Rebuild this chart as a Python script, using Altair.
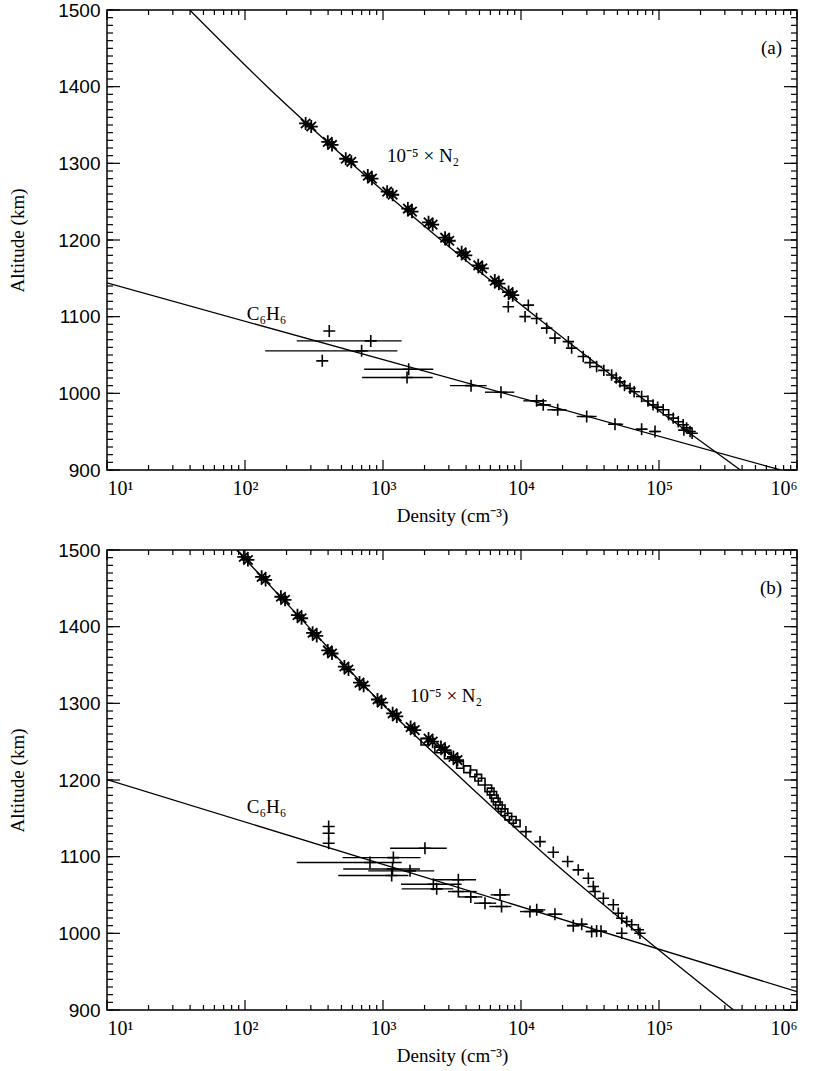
import altair as alt
import pandas as pd

# ---------------- Panel (a) ----------------
a_n2_line_alt = [1500, 1400, 1300, 1200, 1100, 1000, 900]
a_n2_line_den = [39.8, 145, 589, 2630, 12880, 67600, 389000]
a_c6_line_alt = [1144, 900]
a_c6_line_den = [10, 760000]

a_ast_alt = [1352, 1348, 1328, 1324, 1306, 1302, 1284, 1280, 1263, 1259, 1241, 1237,
             1223, 1220, 1203, 1199, 1184, 1180, 1167, 1163, 1147, 1143, 1132, 1128]
a_ast_den = [275, 302, 398, 427, 537, 589, 776, 832, 1072, 1175, 1514, 1622,
             2138, 2291, 2818, 3020, 3715, 3981, 4898, 5248, 6457, 6918, 8128, 8710]

a_plus_alt = [1113, 1115, 1100, 1097.6, 1085, 1072, 1067.5, 1059, 1048, 1040, 1035, 1030,
              1024, 1020, 1015, 1010, 1006.5, 1002, 995.8, 990, 985, 982, 978.6, 972,
              967.7, 963, 959, 955, 952, 950.3, 948]
a_plus_den = [8091, 11300, 10700, 12970, 15350, 17620, 22030, 23280, 28250, 31620, 35320, 39810,
              45390, 48980, 52120, 56230, 61660, 66070, 74820, 83180, 90570, 97720, 107200, 117500,
              126800, 138000, 149600, 158500, 151400, 167900, 173800]

a_c6_alt = [1081.4, 1068.4, 1055.4, 1042.4, 1031.4, 1020.6, 1010, 1001.5, 990.2, 985,
            978.5, 969.8, 959.7, 953.2, 950.2]
a_c6_den = [408, 815, 700, 363, 1535, 1493, 4345, 7161, 12970, 14490,
            18450, 29920, 47970, 74820, 93540]
a_c6_lo = [408, 237, 140, 363, 731, 705, 3062, 5483, 10400, 13000,
           15500, 25350, 42700, 68000, 86000]
a_c6_hi = [408, 1365, 1271, 363, 2312, 2291, 5636, 8933, 15350, 16500,
           21400, 35320, 55000, 82000, 100000]

# ---------------- Panel (b) ----------------
b_n2_line_alt = [1500, 1400, 1300, 1200, 1100, 1000, 900]
b_n2_line_den = [87, 288, 977, 3802, 15490, 70790, 346700]
b_c6_line_alt = [1200.6, 924]
b_c6_line_den = [10, 1000000]

b_ast_alt = [1491, 1487, 1465, 1461, 1439, 1435, 1415, 1411, 1392, 1388, 1369, 1365, 1348, 1344,
             1327, 1323, 1305, 1301, 1287, 1283, 1269, 1265, 1254, 1250, 1243, 1239, 1230, 1226]
b_ast_den = [98, 105, 132, 141, 182, 195, 240, 257, 309, 331, 398, 427, 525, 562,
             676, 724, 912, 977, 1175, 1259, 1585, 1698, 2138, 2291, 2630, 2818, 3236, 3467]

b_sq_alt = [1250, 1240, 1232, 1219.7, 1214, 1208.7, 1203, 1197.9, 1189.2, 1185, 1180.6, 1176,
            1171.8, 1167, 1163.1, 1158, 1152.3, 1148, 1143.5]
b_sq_den = [1995, 2512, 2951, 3614, 4074, 4519, 4898, 5188, 5794, 6026, 6295, 6457,
            6668, 6918, 7244, 7586, 8091, 8710, 9311]

b_plus_alt = [1132.7, 1119.6, 1105.7, 1093.6, 1082.8, 1071.8, 1061, 1054.5, 1045.8, 1037.2,
              1026.2, 1019.7, 1015.4, 1011.1, 1000.1, 1004.6, 1000.1]
b_plus_den = [10860, 13740, 17140, 21780, 26000, 30760, 33420, 34360, 39540, 46670,
              50700, 53700, 58340, 63390, 53700, 70790, 72780]

b_c6_alt = [1139.3, 1130.5, 1117.5, 1111, 1098.8, 1092.3, 1084, 1081.5, 1075.4, 1064,
            1069.8, 1058, 1054.5, 1047.5, 1039.3, 1050.2, 1035, 1028.4, 1030.6, 1024.9,
            1010, 1011.9, 1002.3, 1003.2, 1002.8]
b_c6_den = [404, 404, 404, 2014, 1189, 805, 1172, 1570, 1156, 2317,
            3516, 2449, 3516, 4325, 5483, 7047, 7228, 11610, 13000, 17620,
            23930, 27540, 32510, 35320, 38000]
b_c6_lo = [404, 404, 404, 1125, 509, 237, 515, 782, 474, 1349,
           2317, 1365, 2958, 3548, 4571, 6026, 5888, 9840, 11500, 15500,
           21500, 25000, 29500, 32000, 35000]
b_c6_hi = [404, 404, 404, 2897, 1871, 1365, 1854, 2350, 1528, 3715,
           4721, 3228, 4775, 5248, 6607, 8318, 8511, 14520, 15000, 19950,
           26500, 30000, 35500, 38500, 41000]

# ---------------- Axis ticks & labels ----------------
x_major = [10, 100, 1000, 10000, 100000, 1000000]
x_minor = [m * d for d in [10, 100, 1000, 10000, 100000] for m in range(2, 10)]
y_major = [900, 1000, 1100, 1200, 1300, 1400, 1500]
y_minor = list(range(900, 1501, 10))

W, H = 690, 460
PLUS = "M-1,0L1,0M0,-1L0,1"
AST = "M-1,0L1,0M0,-1L0,1M-0.72,-0.72L0.72,0.72M-0.72,0.72L0.72,-0.72"
SERIF = "Liberation Serif"
SANS = "Liberation Sans Narrow, Liberation Sans"

xscale = alt.Scale(type="log", domain=[10, 1000000], nice=False)
yscale = alt.Scale(domain=[900, 1500], nice=False, zero=False)
xaxis = alt.Axis(values=x_major, ticks=False, domain=False, grid=False,
                 labelExpr="'10' + ['\u2070','\u00b9','\u00b2','\u00b3','\u2074','\u2075','\u2076'][round(log(datum.value)/LN10)]",
                 labelFont=SERIF, labelFontSize=20, labelPadding=8, labelColor="black",
                 title="Density (cm\u207b\u00b3)", titleFont=SERIF, titleFontSize=19,
                 titleFontWeight="normal", titlePadding=8, titleColor="black")
yaxis = alt.Axis(values=y_major, ticks=False, domain=False, grid=False, format="d",
                 labelFont=SANS, labelFontSize=19, labelPadding=7, labelColor="black",
                 title="Altitude (km)", titleFont=SERIF, titleFontSize=19,
                 titleFontWeight="normal", titlePadding=30, titleColor="black")


def X(field="den"):
    return alt.X(f"{field}:Q", scale=xscale, axis=xaxis)


def Y(field="alt"):
    return alt.Y(f"{field}:Q", scale=yscale, axis=yaxis)


def panel(tag, n2l, c6l, ast, plus, sq, c6, n2_label_pos, c6_label_pos):
    layers = []
    # frame ticks (inward)
    dxM = pd.DataFrame({"den": x_major})
    dxm = pd.DataFrame({"den": x_minor})
    dyM = pd.DataFrame({"alt": y_major})
    dym = pd.DataFrame({"alt": y_minor})
    for df, ln in [(dxM, 10), (dxm, 5)]:
        layers.append(alt.Chart(df).mark_rule(color="black", strokeWidth=1.2).encode(
            x=X(), y=alt.value(H), y2=alt.value(H - ln)))
        layers.append(alt.Chart(df).mark_rule(color="black", strokeWidth=1.2).encode(
            x=X(), y=alt.value(0), y2=alt.value(ln)))
    for df, ln in [(dyM, 13), (dym, 6)]:
        layers.append(alt.Chart(df).mark_rule(color="black", strokeWidth=1.2).encode(
            y=Y(), x=alt.value(0), x2=alt.value(ln)))
        layers.append(alt.Chart(df).mark_rule(color="black", strokeWidth=1.2).encode(
            y=Y(), x=alt.value(W), x2=alt.value(W - ln)))
    # model lines
    for (la, ld) in [n2l, c6l]:
        df = pd.DataFrame({"alt": la, "den": ld})
        layers.append(alt.Chart(df).mark_line(color="black", strokeWidth=1.3, clip=True,
                                              interpolate="monotone").encode(
            x=X(), y=Y()))
    # C6H6 error bars and points
    ca, cd, clo, chi = c6
    dfc = pd.DataFrame({"alt": ca, "den": cd, "lo": clo, "hi": chi})
    layers.append(alt.Chart(dfc).mark_rule(color="black", strokeWidth=1.4, clip=True).encode(
        x=X("lo"), x2="hi:Q", y=Y()))
    layers.append(alt.Chart(dfc).mark_point(shape=PLUS, size=144, filled=False, color="black",
                                            strokeWidth=1.6, opacity=1).encode(x=X(), y=Y()))
    # N2 points
    if ast:
        df = pd.DataFrame({"alt": ast[0], "den": ast[1]})
        layers.append(alt.Chart(df).mark_point(shape=AST, size=170, filled=False, color="black",
                                               strokeWidth=1.8, opacity=1).encode(x=X(), y=Y()))
    if sq:
        df = pd.DataFrame({"alt": sq[0], "den": sq[1]})
        layers.append(alt.Chart(df).mark_point(shape="square", size=45, filled=False, color="black",
                                               strokeWidth=1.6, opacity=1).encode(x=X(), y=Y()))
    if plus:
        df = pd.DataFrame({"alt": plus[0], "den": plus[1]})
        layers.append(alt.Chart(df).mark_point(shape=PLUS, size=130, filled=False, color="black",
                                               strokeWidth=1.6, opacity=1).encode(x=X(), y=Y()))
    # text labels
    dft = pd.DataFrame({
        "alt": [n2_label_pos[0], c6_label_pos[0]],
        "den": [n2_label_pos[1], c6_label_pos[1]],
        "t": ["10\u207b\u2075 \u00d7 N\u2082", "C\u2086H\u2086"]})
    layers.append(alt.Chart(dft).mark_text(align="left", baseline="middle", font=SERIF,
                                           fontSize=19, color="black").encode(
        x=X(), y=Y(), text="t:N"))
    dfl = pd.DataFrame({"alt": [1450], "den": [780000], "t": [tag]})
    layers.append(alt.Chart(dfl).mark_text(align="right", baseline="middle", font=SERIF,
                                           fontSize=19, color="black").encode(
        x=X(), y=Y(), text="t:N"))
    return alt.layer(*layers).properties(width=W, height=H)


pa = panel("(a)",
           (a_n2_line_alt, a_n2_line_den), (a_c6_line_alt, a_c6_line_den),
           (a_ast_alt, a_ast_den), (a_plus_alt, a_plus_den), None,
           (a_c6_alt, a_c6_den, a_c6_lo, a_c6_hi),
           (1309, 1070), (1104, 103))
pb = panel("(b)",
           (b_n2_line_alt, b_n2_line_den), (b_c6_line_alt, b_c6_line_den),
           (b_ast_alt, b_ast_den), (b_plus_alt, b_plus_den), (b_sq_alt, b_sq_den),
           (b_c6_alt, b_c6_den, b_c6_lo, b_c6_hi),
           (1309, 1570), (1165, 103))

chart = alt.vconcat(pa, pb, spacing=80, bounds="flush").configure_view(
    stroke="black", strokeWidth=1.5
).properties(
    padding={"left": 7, "top": 0, "right": 10, "bottom": 2},
    background="white"
)

chart.save("out.html", embed_options={"renderer": "svg", "actions": False})
